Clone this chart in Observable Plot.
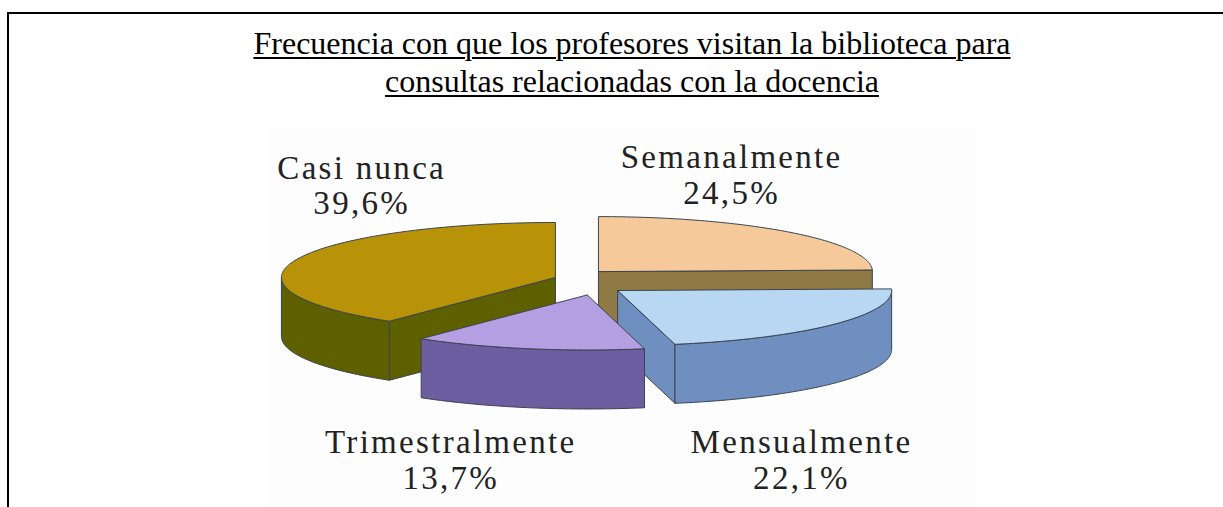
<!DOCTYPE html>
<html lang="es">
<head>
<meta charset="utf-8">
<script src="https://cdn.jsdelivr.net/npm/d3@7"></script>
<script src="https://cdn.jsdelivr.net/npm/@observablehq/plot@0.6"></script>
<style>
  html, body { margin: 0; padding: 0; background: #fff; width: 1223px; height: 507px; overflow: hidden; }
  #frame { position: absolute; left: 7px; top: 12px; width: 1300px; height: 600px; border: 2px solid #000; box-sizing: content-box; }
  #title { position: absolute; left: 132px; width: 1000px; top: 24px; margin: 0; text-align: center; font: 400 32px/38px "Liberation Serif", serif; color: #000; }
  #title span { text-decoration: underline; text-decoration-thickness: 1.5px; text-underline-offset: 3px; }
  #chart { position: absolute; left: 268px; top: 127px; }
  #chart svg { display: block; background: #fdfdfd; }
  #chart svg text { letter-spacing: 2.3px; }
</style>
</head>
<body>
<div id="frame"></div>
<h1 id="title"><span>Frecuencia con que los profesores visitan la biblioteca para</span><br><span>consultas relacionadas con la docencia</span></h1>
<div id="chart"></div>
<script>
// Data
const categories = ["Semanalmente", "Mensualmente", "Trimestralmente", "Casi nunca"];
const percents = [24.5, 22.1, 13.7, 39.6];
const percentLabels = ["24,5%", "22,1%", "13,7%", "39,6%"];

// Styling, in the same order as the categories
const topColors = ["#f5c999", "#b8d7f3", "#b59fe3", "#b89207"];
const sideColors = ["#8f7a46", "#6e8fbf", "#6c5ea0", "#5e6000"];
const edge = "#3a4450";

// Layout: x unit = pie radius, y unit = foreshortened radius
const W = 709, H = 380;
const radiusX = 274, radiusY = 55, thickness = 59 / radiusY;
const originX = 322, originY = 154;
const explodeX = [0.029, 0.099, -0.012, -0.128];
const explodeY = [-0.18, 0.164, 0.245, -0.073];
const labelX = [0.515, 0.77, -0.51, -0.835];
const labelY = [-1.95, 3.24, 3.24, -1.755];

const total = d3.sum(percents);
let running = 0;
const slices = categories.map((name, i) => {
  const a0 = running / total * 2 * Math.PI;
  running += percents[i];
  const a1 = running / total * 2 * Math.PI;
  return {name, i, a0, a1, cx: explodeX[i], cy: explodeY[i]};
});

const rim = (s, a, drop = 0) => ({x: s.cx + Math.sin(a), y: s.cy - Math.cos(a) + drop});
const arc = (s, a0, a1, drop = 0) => {
  const n = Math.max(2, Math.ceil((a1 - a0) * 180 / Math.PI));
  return d3.range(n + 1).map(k => rim(s, a0 + (a1 - a0) * k / n, drop));
};
const apex = (s, drop = 0) => ({x: s.cx, y: s.cy + drop});

const polygon = (pts, fill) =>
  Plot.line([...pts, pts[0]], {x: "x", y: "y", fill, stroke: edge, strokeWidth: 1, strokeLinejoin: "round"});

const sliceMarks = s => {
  const side = sideColors[s.i], marks = [];
  // Cut faces turned toward the viewer
  if (Math.cos(s.a1) < 0 && Math.sin(s.a1) > 0 || s.i === 0)
    marks.push(polygon([apex(s), rim(s, s.a1), rim(s, s.a1, thickness), apex(s, thickness)], side));
  if (Math.cos(s.a0) < 0 && Math.sin(s.a0) < 0)
    marks.push(polygon([apex(s), rim(s, s.a0), rim(s, s.a0, thickness), apex(s, thickness)], side));
  // Outer wall, the part on the front half of the ellipse
  const w0 = Math.max(s.a0, Math.PI / 2), w1 = Math.min(s.a1, 3 * Math.PI / 2);
  if (w1 > w0)
    marks.push(polygon([...arc(s, w0, w1), ...arc(s, w0, w1, thickness).reverse()], side));
  // Top face
  marks.push(polygon([apex(s), ...arc(s, s.a0, s.a1)], topColors[s.i]));
  return marks;
};

const drawOrder = [0, 3, 1, 2];

const chart = Plot.plot({
  width: W,
  height: H,
  margin: 0,
  x: {domain: [-originX / radiusX, (W - originX) / radiusX], range: [0, W], axis: null},
  y: {domain: [-originY / radiusY, (H - originY) / radiusY], range: [0, H], axis: null},
  style: {background: "#fdfdfd"},
  marks: [
    ...drawOrder.flatMap(i => sliceMarks(slices[i])),
    Plot.text(slices, {
      x: d => labelX[d.i],
      y: d => labelY[d.i],
      text: d => `${d.name}\n${percentLabels[d.i]}`,
      fontFamily: "Liberation Serif, serif",
      fontSize: 33,
      lineHeight: 1.09,
      fill: "#222"
    })
  ]
});
document.getElementById("chart").append(chart);
</script>
</body>
</html>
